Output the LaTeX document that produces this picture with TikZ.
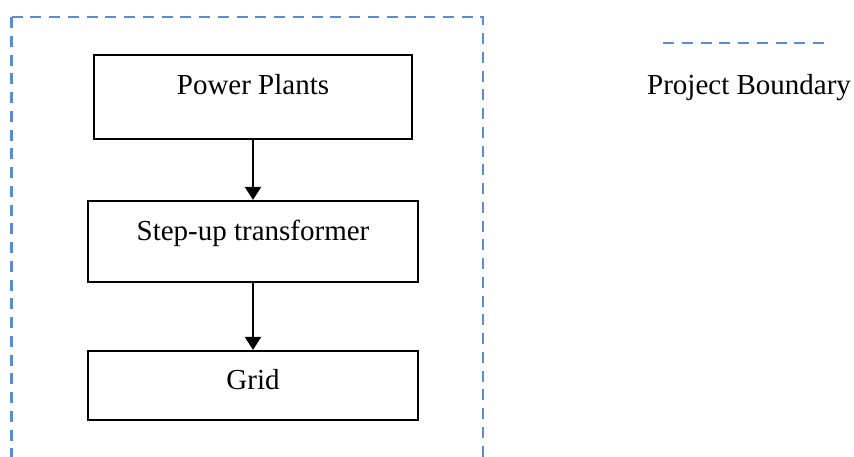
\documentclass[tikz,border=0pt]{standalone}
\usepackage{fontspec}
\setmainfont{Liberation Serif}
\usetikzlibrary{arrows.meta}
\definecolor{boundblue}{RGB}{88,141,214}
\tikzset{
  stagebox/.style={draw=black, line width=2.2pt, rectangle, inner sep=0pt},
  stagetext/.style={anchor=base, inner sep=0pt, font=\fontsize{29}{34}\selectfont},
  flow/.style={line width=2.2pt, -{Triangle[length=13pt,width=16pt]}},
  boundary/.style={draw=boundblue, line width=2.8pt, dash pattern=on 11pt off 7.75pt}
}
\begin{document}
\begin{tikzpicture}[x=1pt, y=-1pt]
\useasboundingbox (0,0) rectangle (854,456);
\begin{scope}
\clip (0,0) rectangle (854,456);
% project boundary, open at the bottom
\coordinate (btl) at (11.5,17);
\coordinate (btr) at (483,17);
\coordinate (bbl) at (11.5,470);
\coordinate (bbr) at (483,470);
\draw[boundary] (btl) -- (btr) -- (bbr);
\draw[boundary] (btl) -- (bbl);
\end{scope}

% stages
\node[stagebox, minimum width=318pt, minimum height=84pt] (pp) at (253,97) {};
\node[stagetext] (ppt) at (253,94) {Power Plants};
\node[stagebox, minimum width=330pt, minimum height=81pt] (st) at (253,241.5) {};
\node[stagetext] (stt) at (253,240) {Step-up transformer};
\node[stagebox, minimum width=330pt, minimum height=69pt] (gr) at (253,385.5) {};
\node[stagetext] (grt) at (253,389) {Grid};

\draw[flow] (pp.south) -- (st.north);
\draw[flow] (st.south) -- (gr.north);

% legend
\coordinate (la) at (663,43);
\coordinate (lb) at (824,43);
\draw[boundary] (la) -- (lb);
\node[stagetext, anchor=base west] (lgt) at (647,94) {Project Boundary};
\end{tikzpicture}
\end{document}
